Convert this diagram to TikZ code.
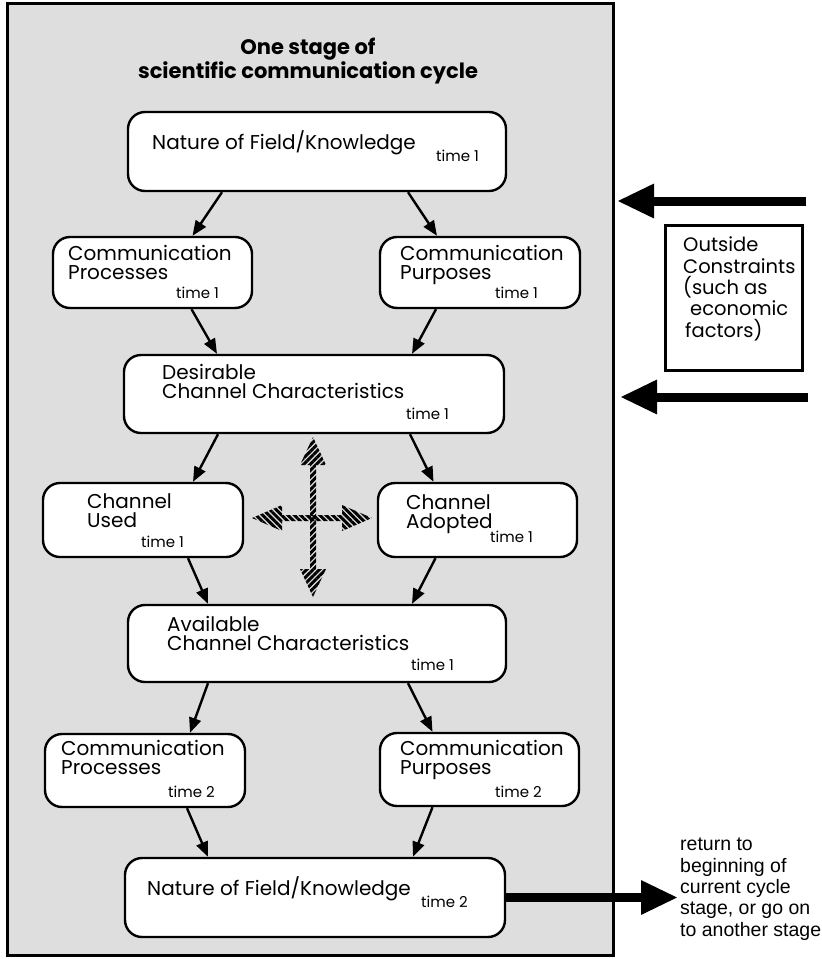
\documentclass[tikz,border=0pt]{standalone}
\usepackage{fontspec}
\setmainfont{Poppins}
\newfontfamily\helv{Liberation Sans}
\usetikzlibrary{arrows.meta,patterns.meta}

\begin{document}
\begin{tikzpicture}[x=1pt,y=-1pt,
    box/.style={draw,line width=2.4pt,rounded corners=17pt,fill=white,inner sep=0pt},
    lbl/.style={anchor=base west,inner sep=0pt,align=left,font=\fontsize{20}{18.5}\selectfont},
    tm/.style={anchor=base west,inner sep=0pt,font=\fontsize{15}{16}\selectfont},
    flow/.style={line width=2.4pt,-{Triangle[length=15pt,width=12pt]}},
    fat/.style={line width=9pt,-{Triangle[length=37pt,width=32pt]}},
    hatchv/.style={pattern={Lines[angle=45,distance=4.5pt,line width=3pt]}},
    hatchh/.style={pattern={Lines[angle=-45,distance=4.5pt,line width=3pt]}},
    side/.style={anchor=base west,inner sep=0pt,align=left,font=\fontsize{19.5}{21.3}\selectfont}]

\useasboundingbox (0,0) rectangle (822,959);

% the stage panel
\draw[line width=3pt,fill=black!13] (7,3) rectangle (613,955);
% (base of a two-line node = its last line)
\node[font=\fontsize{21}{19}\selectfont\bfseries,align=center,anchor=base] (title) at (308,78)
    {One stage of\\scientific communication cycle};

% boxes, top to bottom
\node[box,minimum width=378pt,minimum height=79pt] (nat1) at (317,151.5) {};
\node[box,minimum width=199pt,minimum height=71pt] (proc1) at (152.5,272.5) {};
\node[box,minimum width=200pt,minimum height=71pt] (purp1) at (480,272.5) {};
\node[box,minimum width=380pt,minimum height=78pt] (desir) at (314,394) {};
\node[box,minimum width=200pt,minimum height=74pt] (used) at (143,520) {};
\node[box,minimum width=199pt,minimum height=74pt] (adopt) at (477.5,520) {};
\node[box,minimum width=378pt,minimum height=77pt] (avail) at (317,643.5) {};
\node[box,minimum width=200pt,minimum height=73pt] (proc2) at (145,770.5) {};
\node[box,minimum width=199pt,minimum height=73pt] (purp2) at (479.5,769.5) {};
\node[box,minimum width=380pt,minimum height=79pt] (nat2) at (315,897.5) {};

% texts in the boxes
\node[lbl] (nat1t) at (152,149) {Nature of Field/Knowledge};
\node[tm] (nat1m) at (436,161) {time 1};
\node[lbl] (proc1t) at (68,279) {Communication\\Processes};
\node[tm] (proc1m) at (176,298) {time 1};
\node[lbl] (purp1t) at (400,279) {Communication\\Purposes};
\node[tm] (purp1m) at (495,298) {time 1};
\node[lbl] (desirt) at (162,398) {Desirable\\Channel Characteristics};
\node[tm] (desirm) at (406,419) {time 1};
\node[lbl] (usedt) at (87,527) {Channel\\Used};
\node[tm] (usedm) at (141,547) {time 1};
\node[lbl] (adoptt) at (406,528) {Channel\\Adopted};
\node[tm] (adoptm) at (490,542) {time 1};
\node[lbl] (availt) at (167,650) {Available\\Channel Characteristics};
\node[tm] (availm) at (411,670) {time 1};
\node[lbl] (proc2t) at (61,774) {Communication\\Processes};
\node[tm] (proc2m) at (168,797) {time 2};
\node[lbl] (purp2t) at (400,774) {Communication\\Purposes};
\node[tm] (purp2m) at (495,797) {time 2};
\node[lbl] (nat2t) at (147,895) {Nature of Field/Knowledge};
\node[tm] (nat2m) at (421,907) {time 2};

% arrows between boxes
\draw[flow] ([xshift=-95pt]nat1.south) -- ([xshift=40pt]proc1.north);
\draw[flow] ([xshift=91pt]nat1.south) -- ([xshift=-43pt]purp1.north);
\draw[flow] ([xshift=39pt]proc1.south) -- ([xshift=-97pt]desir.north);
\draw[flow] ([xshift=-44pt]purp1.south) -- ([xshift=98pt]desir.north);
\draw[flow] ([xshift=-96pt]desir.south) -- ([xshift=50pt]used.north);
\draw[flow] ([xshift=96pt]desir.south) -- ([xshift=-44pt]adopt.north);
\draw[flow] ([xshift=45pt]used.south) -- ([xshift=-109pt]avail.north);
\draw[flow] ([xshift=-42pt]adopt.south) -- ([xshift=95pt]avail.north);
\draw[flow] ([xshift=-109pt]avail.south) -- ([xshift=45pt]proc2.north);
\draw[flow] ([xshift=91pt]avail.south) -- ([xshift=-47pt]purp2.north);
\draw[flow] ([xshift=42pt]proc2.south) -- ([xshift=-107pt]nat2.north);
\draw[flow] ([xshift=-47pt]purp2.south) -- ([xshift=98pt]nat2.north);

% hatched cross
\path[hatchv] (313,437) -- (326,465) -- (316,465) -- (316,569) -- (326,569) -- (313,597)
    -- (300,569) -- (310,569) -- (310,465) -- (300,465) -- cycle;
\path[hatchh] (252,518) -- (282,505) -- (282,515) -- (342,515) -- (342,505) -- (372,518)
    -- (342,531) -- (342,521) -- (282,521) -- (282,531) -- cycle;

% outside constraints
\node[draw,line width=3pt,fill=white,minimum width=137pt,minimum height=145pt] (ext) at (733.5,297.5) {};
\node[side] (extt) at (683,337) {Outside\\Constraints\\(such as\\\hspace*{7pt}economic\\\hspace*{2pt}factors)};
\coordinate (in1) at (806,201);
\coordinate (to1) at (617,201);
\coordinate (in2) at (808,397);
\coordinate (to2) at (620,397);
\draw[fat] (in1) -- (to1);
\draw[fat] (in2) -- (to2);

% way out
\coordinate (out) at (678,897.5);
\draw[fat] (nat2.east) -- (out);
\node[anchor=base west,inner sep=0pt,align=left,font=\helv\fontsize{19.5}{21.3}\selectfont] (ret) at (680,936)
    {return to\\beginning of\\current cycle\\stage, or go on\\to another stage};
\end{tikzpicture}
\end{document}
